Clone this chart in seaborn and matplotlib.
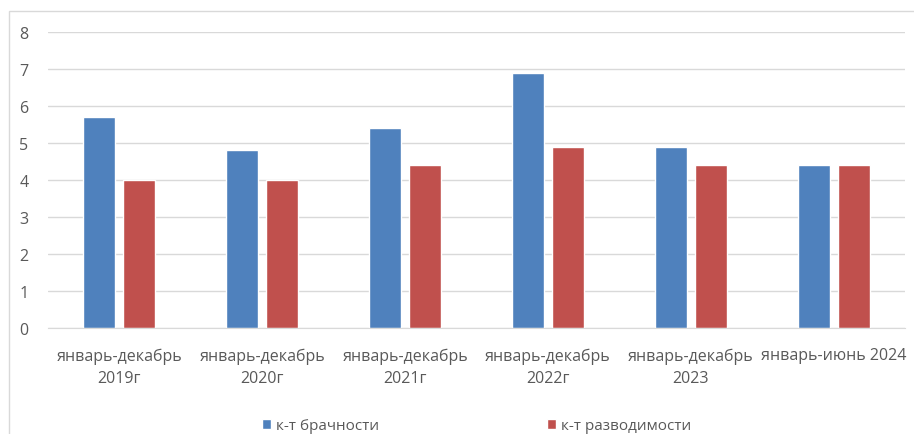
import pandas as pd
import matplotlib
matplotlib.use("Agg")
import matplotlib.pyplot as plt
import seaborn as sns
from matplotlib.patches import Rectangle

# ---------------------------------------------------------
# data
# ---------------------------------------------------------
periods = ["январь-декабрь\n2019г", "январь-декабрь\n2020г", "январь-декабрь\n2021г",
           "январь-декабрь\n2022г", "январь-декабрь\n2023", "январь-июнь 2024"]
marriage = [5.7, 4.8, 5.4, 6.9, 4.9, 4.4]
divorce = [4.0, 4.0, 4.4, 4.9, 4.4, 4.4]
series = ["к-т брачности", "к-т разводимости"]

df = pd.DataFrame({
    "period": periods * 2,
    "value": marriage + divorce,
    "series": [series[0]] * len(periods) + [series[1]] * len(periods),
})

sns.set_style("white")
plt.rcParams["font.family"] = ["Open Sans", "DejaVu Sans"]
text_col = "#595959"

fig = plt.figure(figsize=(9.14, 4.35), dpi=100)
ax = fig.add_axes([48 / 914, 1 - 329 / 435, (905 - 48) / 914, (329 - 33) / 435])

sns.barplot(data=df, x="period", y="value", hue="series", ax=ax,
            palette=["#4F81BD", "#C0504D"], width=0.56, gap=0.2,
            saturation=1, legend=True)

ax.set_ylim(0, 8)
ax.set_xlim(-0.5, len(periods) - 0.5)
ax.set_yticks(range(0, 9))
ax.yaxis.grid(True, color="#D9D9D9", linewidth=1)
ax.set_axisbelow(True)
for side in ["top", "right", "left"]:
    ax.spines[side].set_visible(False)
ax.spines["bottom"].set_color("#D9D9D9")
ax.tick_params(axis="both", length=0, labelsize=11.5, colors=text_col)
ax.tick_params(axis="x", pad=14)
ax.tick_params(axis="y", pad=14)
for lbl in ax.get_xticklabels():
    lbl.set_linespacing(1.5)
ax.set_xlabel("")
ax.set_ylabel("")

handles, labels = ax.get_legend_handles_labels()
ax.legend(handles, labels, loc="center", bbox_to_anchor=(0.5, -0.33), ncol=2,
          frameon=False, fontsize=11, handlelength=0.6, handleheight=0.6,
          handletextpad=0.3, columnspacing=11, labelcolor=text_col)

# outer frame of the chart
fig.patches.append(Rectangle((9 / 914, -0.01), 1.0, 1 - 12 / 435 + 0.01,
                             transform=fig.transFigure, fill=False,
                             edgecolor="#D9D9D9", linewidth=1))

fig.savefig("out.png", dpi=100)
